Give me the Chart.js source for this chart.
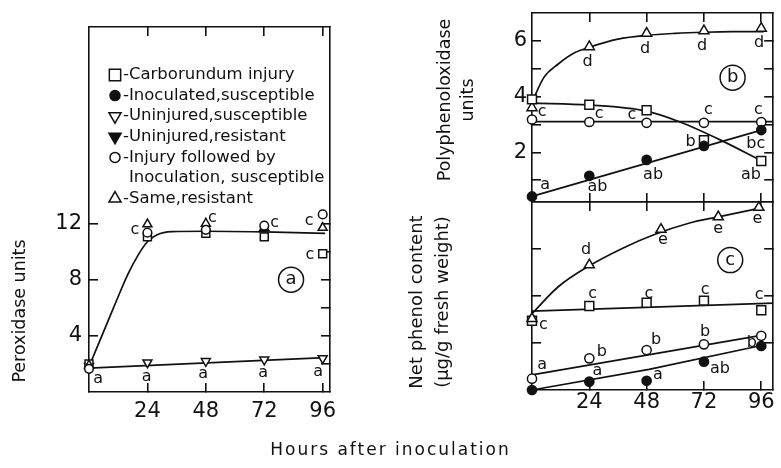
<!DOCTYPE html>
<html><head><meta charset="utf-8">
<script src="https://cdn.jsdelivr.net/npm/chart.js@4/dist/chart.umd.min.js"></script>
<style>
html,body{margin:0;padding:0;background:#fff;width:781px;height:468px;overflow:hidden;position:relative}
canvas{position:absolute}
#xt{position:absolute;left:0;width:781px;top:439px;text-align:center;font:17px "DejaVu Sans",sans-serif;letter-spacing:2px;color:#111;white-space:nowrap}
</style></head><body>
<canvas id="ca" width="345" height="440" style="left:0;top:0"></canvas>
<canvas id="cb" width="401" height="210" style="left:380px;top:0"></canvas>
<canvas id="cc" width="401" height="274" style="left:380px;top:194px"></canvas>
<div id="xt">Hours after inoculation</div>
<script>
// ---------- data ----------
const hours = [0, 24, 48, 72, 96];
const xTickLabels = [24, 48, 72, 96];

// (a) Peroxidase units
const perTickLabels = [4, 8, 12];
const perCarborundum = [2.0, 11.05, 11.3, 11.05, 9.85];
const perInjInocSus  = [1.65, 11.35, 11.55, 11.85, 12.65];
const perInjInocRes  = [1.9, 11.95, 12.0, 11.7, 11.7];
const perUninjSus    = [1.85, 2.1, 2.2, 2.3, 2.4];
const perFitHours    = [0, 6, 12, 16, 20, 24, 28, 34, 48, 72, 97];
const perFitHigh     = [1.8, 4.3, 6.8, 8.4, 9.7, 10.7, 11.2, 11.42, 11.45, 11.4, 11.3];
const perFitLowHours = [0, 97];
const perFitLow      = [1.7, 2.45];
const perLetters = [[3.8,0.96,'a'],[23.7,1.08,'a'],[46.9,1.31,'a'],[71.5,1.38,'a'],[94.1,1.43,'a'],
  [18.9,11.53,'c'],[50.7,12.4,'c'],[76.3,12.05,'c'],[90.4,12.16,'c'],[90.7,9.8,'c']];

// (b) Polyphenoloxidase units
const ppoTickLabels = [2, 4, 6];
const ppoCarborundum = [3.9, 3.71, 3.51, 2.44, 1.69];
const ppoInocSus     = [0.42, 1.16, 1.73, 2.23, 2.8];
const ppoInjInocSus  = [3.18, 3.09, 3.06, 3.06, 3.09];
const ppoInjInocRes  = [3.6, 5.79, 6.27, 6.36, 6.45];
const ppoFitResHours = [0, 5, 11, 18, 24, 36, 48, 60, 72, 84, 97];
const ppoFitRes      = [3.8, 4.69, 5.17, 5.58, 5.77, 6.06, 6.2, 6.27, 6.31, 6.33, 6.33];
const ppoFitCarbHours = [0, 24, 48, 62, 79, 96];
const ppoFitCarb     = [3.77, 3.7, 3.48, 3.09, 2.44, 1.7];
const ppoFitSusHours = [0, 101];
const ppoFitSus      = [3.1, 3.1];
const ppoFitInocHours = [0, 96];
const ppoFitInoc     = [0.42, 2.8];
const ppoLetters = [[23.3,5.23,'d'],[47.3,5.7,'d'],[71.2,5.82,'d'],[95.1,5.94,'d'],
  [4.2,3.45,'c'],[28.1,3.39,'c'],[41.8,3.33,'c'],[73.9,3.53,'c'],[94.8,3.53,'c'],
  [66.4,2.38,'b'],[93.7,2.3,'bc'],[91.7,1.19,'ab'],[50.7,1.19,'ab'],[27.4,0.78,'ab'],[5.5,0.84,'a']];

// (c) Net phenol content
const phenTickLabels = [1000, 2000];
const phenCarborundum = [825, 1000, 1040, 1065, 950];
const phenInocSus     = [0, 100, 110, 337, 524];
const phenInjInocSus  = [135, 377, 476, 544, 646];
const phenResHours    = [0, 24, 54, 78, 95];
const phenInjInocRes  = [850, 1490, 1913, 2063, 2175];
const phenFitResHours = [0, 11, 24, 38, 51, 66, 78, 96];
const phenFitRes      = [910, 1230, 1480, 1690, 1850, 1990, 2063, 2170];
const phenFitCarbHours = [0, 101];
const phenFitCarb     = [940, 1035];
const phenFitSusHours = [0, 96];
const phenFitSus      = [180, 650];
const phenFitInocHours = [0, 49, 96];
const phenFitInoc     = [0, 246, 530];
const phenLetters = [[22.6,1667,'d'],[54.8,1794,'e'],[78,1925,'e'],[94.4,2044,'e'],
  [4.8,774,'c'],[25.4,1151,'c'],[48.9,1151,'c'],[72.5,1198,'c'],[95.1,1131,'c'],
  [4.2,298,'a'],[29.2,456,'b'],[52,603,'b'],[72.5,694,'b'],[92.1,556,'b'],
  [27.4,230,'a'],[52.7,179,'a'],[78.7,258,'ab']];

const legendNames = ['Carborundum injury', 'Inoculated,susceptible', 'Uninjured,susceptible',
  'Uninjured,resistant', 'Injury followed by', 'Inoculation, susceptible', 'Same,resistant'];

// ---------- styling helpers ----------
const FONT = '"DejaVu Sans", sans-serif';
const INK = '#111';
const NONE = 'rgba(0,0,0,0)';
const TL = -9;

function pts(xs, ys) { return xs.map((x, i) => ({x: x, y: ys[i]})); }
function markers(xs, ys, style, filled, r, rot) {
  return {data: pts(xs, ys), showLine: false, pointStyle: style, pointRadius: r, pointHoverRadius: r,
    pointRotation: rot || 0, pointBorderColor: INK, pointBackgroundColor: filled ? INK : '#fff',
    pointBorderWidth: 1.5, borderColor: INK, clip: false};
}
function curve(xs, ys, smooth) {
  return {data: pts(xs, ys), showLine: true, pointRadius: 0, pointHoverRadius: 0, borderColor: INK,
    borderWidth: 1.7, cubicInterpolationMode: smooth ? 'monotone' : 'default', tension: 0, fill: false, clip: false};
}
function xAxis(position, max, thick, labelled, pad) {
  return {type: 'linear', position, min: 0, max, display: true,
    afterFit(s) { s.height = thick; s.paddingLeft = 0; s.paddingRight = 0; },
    border: {display: true, color: INK, width: 1.6},
    grid: {drawOnChartArea: false, drawTicks: true, tickLength: TL, lineWidth: 1.6,
      color: c => (c.tick && c.tick.value > 0 && c.tick.value < max) ? INK : NONE},
    ticks: {display: labelled, stepSize: 24, includeBounds: false, autoSkip: false, maxRotation: 0,
      padding: pad, color: INK, font: {family: FONT, size: 21},
      callback: v => xTickLabels.includes(v) ? String(v) : ''}};
}
function yAxis(position, min, max, step, thick, labels, markTop, pad) {
  return {type: 'linear', position, min, max, display: true,
    afterFit(s) { s.width = thick; s.paddingTop = 0; s.paddingBottom = 0; },
    border: {display: true, color: INK, width: 1.6},
    grid: {drawOnChartArea: false, drawTicks: true, tickLength: TL, lineWidth: 1.6,
      color: c => (c.tick && c.tick.value > min && c.tick.value <= markTop) ? INK : NONE},
    ticks: {display: !!labels, stepSize: step, includeBounds: false, padding: pad, color: INK,
      font: {family: FONT, size: 21}, callback: v => (labels && labels.includes(v)) ? String(v) : ''}};
}
function shape(ctx, kind, filled, r, x, y) {
  ctx.beginPath();
  if (kind === 'rect') { const s = r * Math.SQRT1_2; ctx.rect(x - s, y - s, 2 * s, 2 * s); }
  else if (kind === 'circle') ctx.arc(x, y, r, 0, Math.PI * 2);
  else {
    const d = kind === 'triDown' ? -1 : 1;
    for (let k = 0; k < 3; k++) { const a = k * 2 * Math.PI / 3; ctx.lineTo(x + Math.sin(a) * r, y - d * Math.cos(a) * r); }
    ctx.closePath();
  }
  ctx.fillStyle = filled ? INK : '#fff'; ctx.fill(); ctx.lineWidth = 1.5; ctx.strokeStyle = INK; ctx.stroke();
}
const legendMarks = [['rect', false, 8], ['circle', true, 5], ['triDown', false, 7], ['triDown', true, 7],
  ['circle', false, 5], null, ['tri', false, 7]];

const decor = {
  id: 'decor',
  afterDatasetsDraw(chart, args, o) {
    const ctx = chart.ctx, a = chart.chartArea, sx = chart.scales.x, sy = chart.scales.y;
    ctx.save();
    ctx.fillStyle = INK; ctx.strokeStyle = INK; ctx.textAlign = 'center'; ctx.textBaseline = 'middle';
    ctx.font = '16px ' + FONT;
    for (const [t, v, s] of o.letters) ctx.fillText(s, sx.getPixelForValue(t), sy.getPixelForValue(v));
    const [pt, pv, ps] = o.tag;
    const px = sx.getPixelForValue(pt), py = sy.getPixelForValue(pv);
    ctx.lineWidth = 1.5; ctx.beginPath(); ctx.arc(px, py, 12.5, 0, Math.PI * 2); ctx.stroke();
    ctx.font = '18px ' + FONT; ctx.fillText(ps, px, py);
    ctx.font = o.titleSize + 'px ' + FONT;
    o.title.forEach((line, i) => {
      ctx.save(); ctx.translate(o.titleX[i], o.titleY); ctx.rotate(-Math.PI / 2);
      ctx.fillText(line, 0, 0); ctx.restore();
    });
    if (o.legend) {
      ctx.font = '16.5px ' + FONT; ctx.textAlign = 'left';
      const dash = ctx.measureText('-').width;
      legendNames.forEach((name, k) => {
        const y = a.top + 48 + 20.6 * k;
        const m = legendMarks[k];
        ctx.fillStyle = INK;
        if (m) { ctx.fillText('-' + name, a.left + 34, y); shape(ctx, m[0], m[1], m[2], a.left + 26, y); }
        else ctx.fillText(name, a.left + 34 + dash, y);
      });
    }
    ctx.restore();
  }
};

function baseOptions(padding, scales, decorOpts) {
  return {responsive: false, animation: false, events: [], layout: {padding},
    scales, plugins: {legend: {display: false}, tooltip: {enabled: false}, decor: decorOpts}};
}

// ---------- panel (a) ----------
new Chart(document.getElementById('ca'), {
  type: 'line',
  data: {datasets: [
    markers(hours, perInjInocSus, 'circle', false, 4.3),
    markers(hours, perInjInocRes, 'triangle', false, 5.2),
    markers(hours, perCarborundum, 'rect', false, 5.6),
    markers(hours, perUninjSus, 'triangle', false, 5.2, 180),
    curve(perFitHours, perFitHigh, true),
    curve(perFitLowHours, perFitLow, false)
  ]},
  options: baseOptions({top: 27, right: 15, left: 0, bottom: 0}, {
    x: xAxis('bottom', 99, 48, true, 16),
    x2: xAxis('top', 99, 0, false, 0),
    y: yAxis('left', 0, 26, 2, 89, perTickLabels, 12, 16),
    y2: yAxis('right', 0, 26, 2, 0, null, 12, 0)
  }, {letters: perLetters, tag: [83, 8, 'a'], title: ['Peroxidase units'], titleX: [20], titleY: 311, titleSize: 17.5, legend: true}),
  plugins: [decor]
});

// ---------- panel (b) ----------
new Chart(document.getElementById('cb'), {
  type: 'line',
  data: {datasets: [
    markers(hours, ppoInocSus, 'circle', true, 4.6),
    markers(hours, ppoInjInocSus, 'circle', false, 4.6),
    markers(hours, ppoCarborundum, 'rect', false, 6.3),
    markers(hours, ppoInjInocRes, 'triangle', false, 5.8),
    curve(ppoFitResHours, ppoFitRes, true),
    curve(ppoFitCarbHours, ppoFitCarb, true),
    curve(ppoFitSusHours, ppoFitSus, false),
    curve(ppoFitInocHours, ppoFitInoc, false)
  ]},
  options: baseOptions({top: 13, right: 3, left: 0, bottom: 0}, {
    x: xAxis('bottom', 101, 8, false, 0),
    x2: xAxis('top', 101, 0, false, 0),
    y: yAxis('left', 0.22, 7, 1, 152, ppoTickLabels, 6, 14),
    y2: yAxis('right', 0.22, 7, 1, 0, null, 6, 0)
  }, {letters: ppoLetters, tag: [84, 4.68, 'b'], title: ['Polyphenoloxidase', 'units'], titleX: [65, 88], titleY: 100, titleSize: 17.5}),
  plugins: [decor]
});

// ---------- panel (c) ----------
new Chart(document.getElementById('cc'), {
  type: 'line',
  data: {datasets: [
    markers(hours, phenInocSus, 'circle', true, 4.6),
    markers(hours, phenInjInocSus, 'circle', false, 4.6),
    markers(phenResHours, phenInjInocRes, 'triangle', false, 5.8),
    markers(hours, phenCarborundum, 'rect', false, 6.3),
    curve(phenFitResHours, phenFitRes, true),
    curve(phenFitCarbHours, phenFitCarb, false),
    curve(phenFitSusHours, phenFitSus, false),
    curve(phenFitInocHours, phenFitInoc, false)
  ]},
  options: baseOptions({top: 8, right: 3, left: 0, bottom: 0}, {
    x: xAxis('bottom', 101, 78, true, 9),
    x2: xAxis('top', 101, 0, false, 0),
    y: yAxis('left', 0, 2240, 500, 152, phenTickLabels, 2000, 14),
    y2: yAxis('right', 0, 2240, 500, 0, null, 2000, 0)
  }, {letters: phenLetters, tag: [83, 1548, 'c'], title: ['Net phenol content', '(\u00b5g/g fresh weight)'], titleX: [37, 63], titleY: 108, titleSize: 18}),
  plugins: [decor]
});
</script>
</body></html>
